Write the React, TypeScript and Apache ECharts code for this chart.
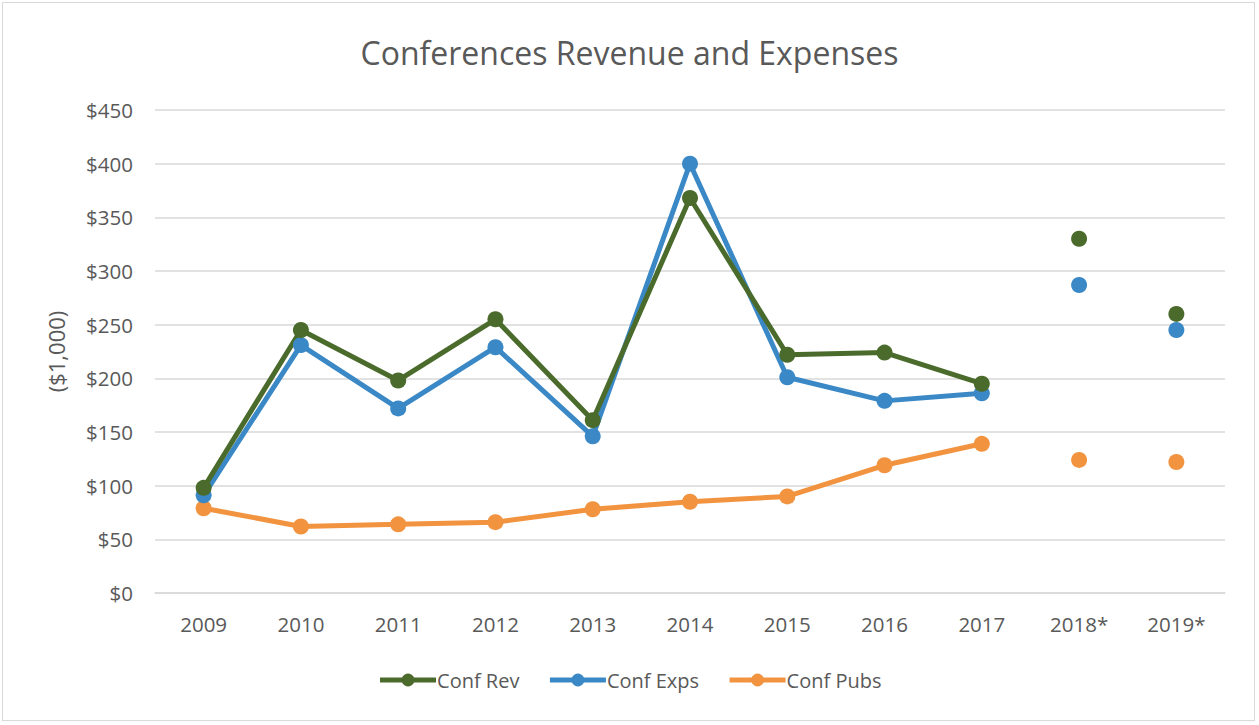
import React, { useEffect, useRef } from "react";
import * as echarts from "echarts";

const categories = ["2009", "2010", "2011", "2012", "2013", "2014", "2015", "2016", "2017", "2018*", "2019*"];
const confRev = [98, 245, 198, 255, 161, 368, 222, 224, 195, null, null];
const confExps = [91, 231, 172, 229, 146, 400, 201, 179, 186, null, null];
const confPubs = [79, 62, 64, 66, 78, 85, 90, 119, 139, null, null];
const confRevProj = [null, null, null, null, null, null, null, null, null, 330, 260];
const confExpsProj = [null, null, null, null, null, null, null, null, null, 287, 245];
const confPubsProj = [null, null, null, null, null, null, null, null, null, 124, 122];
const yTicks = { min: 0, max: 450, interval: 50 };

const GREEN = "#4A6B2B";
const BLUE = "#3A88C6";
const ORANGE = "#F29340";
const FONT = "Open Sans";
const TEXT = "#595959";

export default function App() {
  const ref = useRef<HTMLDivElement>(null);
  useEffect(() => {
    if (!ref.current) return;
    const chart = echarts.init(ref.current, null, { renderer: "svg" });
    const lineSeries = (name: string, data: any[], color: string) => ({
      name,
      type: "line",
      data,
      connectNulls: false,
      symbol: "circle",
      symbolSize: 16,
      itemStyle: { color, opacity: 1 },
      lineStyle: { color, width: 5 },
      z: 3,
    });
    const projSeries = (name: string, data: any[], color: string) => ({
      name,
      type: "scatter",
      data,
      symbol: "circle",
      symbolSize: 16,
      itemStyle: { color, opacity: 1 },
      z: 3,
    });
    chart.setOption({
      animation: false,
      backgroundColor: "transparent",
      title: {
        text: "Conferences Revenue and Expenses",
        left: "center",
        top: 31,
        textStyle: { fontFamily: FONT, fontSize: 32, fontWeight: "normal", color: TEXT },
      },
      grid: { left: 155, right: 34, top: 110, bottom: 132, containLabel: false },
      legend: {
        data: ["Conf Rev", "Conf Exps", "Conf Pubs"],
        bottom: 30,
        left: "center",
        itemWidth: 56,
        itemHeight: 16,
        itemGap: 28,
        lineStyle: { width: 5 },
        textStyle: { fontFamily: FONT, fontSize: 20, color: TEXT, padding: [0, 0, 0, -4] },
      },
      xAxis: {
        type: "category",
        data: categories,
        boundaryGap: true,
        axisLine: { show: true, lineStyle: { color: "#d9d9d9", width: 1.5 } },
        axisTick: { show: false },
        axisLabel: { fontFamily: FONT, fontSize: 20.5, color: TEXT, margin: 20 },
      },
      yAxis: {
        type: "value",
        min: yTicks.min,
        max: yTicks.max,
        interval: yTicks.interval,
        name: "($1,000)",
        nameLocation: "middle",
        nameGap: 88,
        nameRotate: 90,
        nameTextStyle: { fontFamily: FONT, fontSize: 22, color: TEXT },
        axisLine: { show: false },
        axisTick: { show: false },
        splitLine: { lineStyle: { color: "#d9d9d9", width: 1.5 } },
        axisLabel: {
          fontFamily: FONT,
          fontSize: 20.5,
          color: TEXT,
          margin: 22,
          formatter: (v: number) => "$" + v,
        },
      },
      series: [
        lineSeries("Conf Pubs", confPubs, ORANGE),
        lineSeries("Conf Exps", confExps, BLUE),
        lineSeries("Conf Rev", confRev, GREEN),
        projSeries("Conf Rev Proj", confRevProj, GREEN),
        projSeries("Conf Exps Proj", confExpsProj, BLUE),
        projSeries("Conf Pubs Proj", confPubsProj, ORANGE),
      ],
    });
    return () => chart.dispose();
  }, []);
  return (
    <div style={{ position: "absolute", left: 0, top: 0, width: 1259, height: 725, background: "#fff" }}>
      <div
        style={{
          position: "absolute",
          left: 2,
          top: 2,
          width: 1253,
          height: 719,
          border: "1.5px solid #d9d9d9",
          boxSizing: "border-box",
        }}
      />
      <div ref={ref} style={{ position: "absolute", left: 0, top: 0, width: 1259, height: 725 }} />
    </div>
  );
}
